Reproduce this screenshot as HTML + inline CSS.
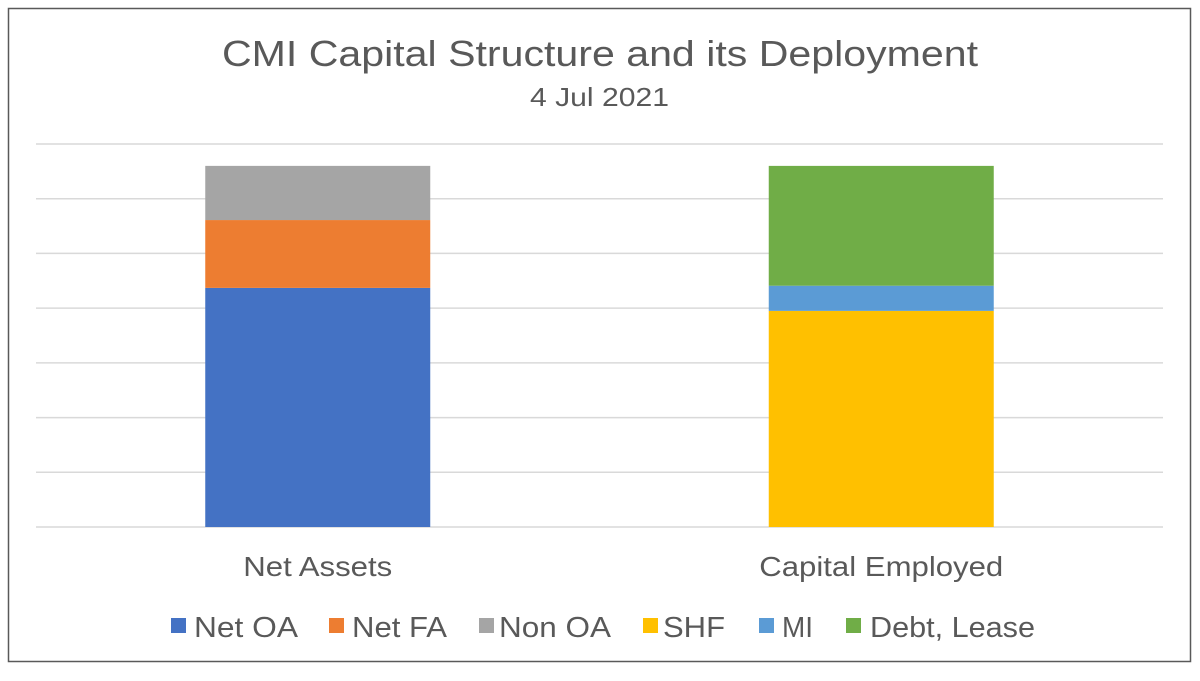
<!DOCTYPE html>
<html><head><meta charset="utf-8"><style>
body{margin:0;width:1200px;height:676px;background:#fff;overflow:hidden;font-family:"Liberation Sans",Arial,sans-serif}
</style></head><body>
<svg width="1200" height="676" xmlns="http://www.w3.org/2000/svg">
<rect x="8.5" y="8.5" width="1182" height="653" fill="#fff" stroke="#595959" stroke-width="1.5"/>
<text x="222" y="66" textLength="756" lengthAdjust="spacingAndGlyphs" font-size="36" fill="#595959">CMI Capital Structure and its Deployment</text>
<text x="530" y="106" textLength="139" lengthAdjust="spacingAndGlyphs" font-size="26" fill="#595959">4 Jul 2021</text>
<g id="grid"></g><g id="bars"></g><g id="legend"></g>
</svg>
<script>
const categories=["Net Assets","Capital Employed"];
const seriesNames=["Net OA","Net FA","Non OA","SHF","MI","Debt, Lease"];
const seriesColors=["#4472c4","#ed7d31","#a5a5a5","#ffc000","#5b9bd5","#70ad47"];
const netOA=[4.37,0];
const netFA=[1.24,0];
const nonOA=[0.99,0];
const shf=[0,3.95];
const mi=[0,0.46];
const debt=[0,2.19];
const gridTicks=[0,1,2,3,4,5,6,7];
const series=[netOA,netFA,nonOA,shf,mi,debt];
const NS="http://www.w3.org/2000/svg";
const y0=527,yTop=144,yMax=7;
const y=v=>y0-(v/yMax)*(y0-yTop);
const plotL=36,plotR=1163,bandW=(plotR-plotL)/categories.length,barW=225;
const x=i=>plotL+bandW*(i+0.5);
function mk(t,a){const e=document.createElementNS(NS,t);for(const k in a)e.setAttribute(k,a[k]);return e;}
const grid=document.getElementById('grid');
gridTicks.forEach(t=>{const l=mk('line',{x1:plotL,x2:plotR,y1:y(t),y2:y(t),stroke:'#d9d9d9','stroke-width':1.5});


grid.appendChild(l);});
const catW=[149,244];
const bars=document.getElementById('bars');
categories.forEach((c,i)=>{let acc=0;
series.forEach((s,j)=>{const v=s[i];if(!v)return;
const r=mk('rect',{x:x(i)-barW/2,y:y(acc+v),width:barW,height:y(acc)-y(acc+v),fill:seriesColors[j]});


bars.appendChild(r);acc+=v;});
const tx=mk('text',{x:x(i)-catW[i]/2,y:576,textLength:catW[i],lengthAdjust:'spacingAndGlyphs','font-size':28,fill:'#595959'});tx.textContent=c;


bars.appendChild(tx);});
const lx=[171,329,479,643,759,846];
const tx0=[194,352,499,663,782,870];
const tw=[104,95,112,62,31,165];
const leg=document.getElementById('legend');
seriesNames.forEach((n,j)=>{const g=mk('g',{});


g.appendChild(mk('rect',{x:lx[j],y:618,width:15,height:15,fill:seriesColors[j]}));
const t=mk('text',{x:tx0[j],y:637,textLength:tw[j],lengthAdjust:'spacingAndGlyphs','font-size':29,fill:'#595959'});t.textContent=n;g.appendChild(t);leg.appendChild(g);});
</script>
</body></html>
